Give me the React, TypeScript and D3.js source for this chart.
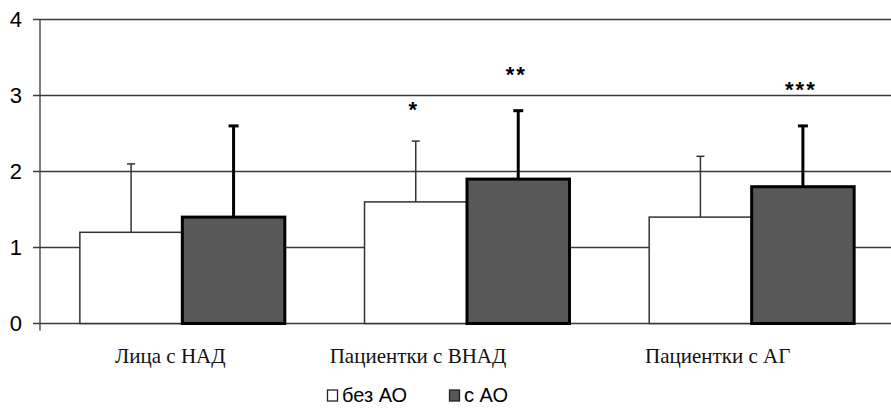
import { useEffect, useRef } from "react"
import * as d3 from "d3"

// chart data
const categories = ["Лица с НАД", "Пациентки с ВНАД", "Пациентки с АГ"]
const seriesNames = ["без АО", "с АО"]
const withoutAO = [1.2, 1.6, 1.4]
const withoutAOErr = [2.1, 2.4, 2.2]
const withAO = [1.4, 1.9, 1.8]
const withAOErr = [2.6, 2.8, 2.6]
const stars = [["", ""], ["*", "**"], ["", "***"]]
const yTicks = [0, 1, 2, 3, 4]

// category labels in the original sit a bit left of the group centre
const labelShift = [-12, -49, -34]

const W = 891
const H = 408
const M = { top: 19.5, right: 0, bottom: 84.5, left: 40 }

const App = () => {
  const svgRef = useRef<SVGSVGElement>(null)

  useEffect(() => {
    const svg = d3.select(svgRef.current)
    svg.selectAll("*").remove()

    const x = d3.scaleBand<string>()
      .domain(categories)
      .range([M.left, W - M.right + 3])
      .paddingInner(0.28)
      .paddingOuter(0.14)

    const x1 = d3.scaleBand<string>()
      .domain(seriesNames)
      .range([0, x.bandwidth()])

    const y = d3.scaleLinear()
      .domain([0, 4])
      .range([H - M.bottom, M.top])

    // gridlines
    svg.append("g")
      .attr("stroke", "#3a3a3a")
      .attr("stroke-width", 1.3)
      .selectAll("line")
      .data(yTicks)
      .join("line")
        .attr("x1", M.left - 7)
        .attr("x2", W)
        .attr("y1", d => y(d))
        .attr("y2", d => y(d))

    // y axis line
    svg.append("line")
      .attr("x1", M.left).attr("x2", M.left)
      .attr("y1", y(4)).attr("y2", y(0) + 7)
      .attr("stroke", "#3a3a3a")
      .attr("stroke-width", 1.3)

    // y tick labels
    svg.append("g")
      .attr("font-family", "'Liberation Sans', Arial, sans-serif")
      .attr("font-size", 22)
      .attr("text-anchor", "end")
      .selectAll("text")
      .data(yTicks)
      .join("text")
        .attr("x", M.left - 18)
        .attr("y", d => y(d))
        .attr("dy", "0.36em")
        .text(d => d)

    const rows = categories.map((c, i) => ({
      c,
      vals: [
        { s: seriesNames[0], v: withoutAO[i], e: withoutAOErr[i], star: stars[i][0] },
        { s: seriesNames[1], v: withAO[i], e: withAOErr[i], star: stars[i][1] },
      ],
    }))

    const groups = svg.append("g")
      .selectAll("g")
      .data(rows)
      .join("g")
        .attr("transform", d => `translate(${x(d.c)},0)`)

    const items = groups.selectAll("g")
      .data(d => d.vals)
      .join("g")

    // error bars (upper only) behind the bars
    items.append("line")
      .attr("x1", d => x1(d.s)! + x1.bandwidth() / 2)
      .attr("x2", d => x1(d.s)! + x1.bandwidth() / 2)
      .attr("y1", d => y(d.v))
      .attr("y2", d => y(d.e))
      .attr("stroke", d => d.s === seriesNames[0] ? "#333" : "#000")
      .attr("stroke-width", d => d.s === seriesNames[0] ? 1.5 : 3)
    items.append("line")
      .attr("x1", d => x1(d.s)! + x1.bandwidth() / 2 - (d.s === seriesNames[0] ? 4 : 5))
      .attr("x2", d => x1(d.s)! + x1.bandwidth() / 2 + (d.s === seriesNames[0] ? 4 : 5))
      .attr("y1", d => y(d.e))
      .attr("y2", d => y(d.e))
      .attr("stroke", d => d.s === seriesNames[0] ? "#333" : "#000")
      .attr("stroke-width", d => d.s === seriesNames[0] ? 1.5 : 3)

    // bars
    items.append("rect")
      .attr("x", d => x1(d.s)!)
      .attr("y", d => y(d.v))
      .attr("width", x1.bandwidth())
      .attr("height", d => y(0) - y(d.v))
      .attr("fill", d => d.s === seriesNames[0] ? "#fff" : "#585858")
      .attr("stroke", d => d.s === seriesNames[0] ? "#333" : "#000")
      .attr("stroke-width", d => d.s === seriesNames[0] ? 1.5 : 3)

    // significance stars
    items.append("text")
      .attr("x", d => x1(d.s)! + x1.bandwidth() / 2 - 2)
      .attr("y", d => y(d.e) - (d.s === seriesNames[0] ? 24 : 29))
      .attr("text-anchor", "middle")
      .attr("font-family", "'Liberation Sans', Arial, sans-serif")
      .attr("font-size", 22)
      .attr("font-weight", "bold")
      .attr("letter-spacing", 2)
      .text(d => d.star)

    // category labels
    svg.append("g")
      .attr("font-family", "'Liberation Serif', 'Times New Roman', serif")
      .attr("font-size", 21)
      .attr("text-anchor", "middle")
      .attr("fill", "#111")
      .selectAll("text")
      .data(categories)
      .join("text")
        .attr("x", (d, i) => x(d)! + x.bandwidth() / 2 + labelShift[i])
        .attr("y", 363)
        .text(d => d)

    // legend
    const legend = svg.append("g")
      .attr("font-family", "'Liberation Sans', Arial, sans-serif")
      .attr("font-size", 20)
      .selectAll("g")
      .data(seriesNames)
      .join("g")
        .attr("transform", (d, i) => `translate(${327 + i * 122},0)`)
    legend.append("rect")
      .attr("x", 0.5)
      .attr("y", 390)
      .attr("width", 10)
      .attr("height", 11)
      .attr("fill", (d, i) => i === 0 ? "#fff" : "#585858")
      .attr("stroke", "#222")
      .attr("stroke-width", 1.3)
    legend.append("text")
      .attr("x", 15)
      .attr("y", 402)
      .text(d => d)
  }, [])

  return (
    <svg
      ref={svgRef}
      width={W}
      height={H}
      style={{ position: "absolute", left: 0, top: 0, background: "#fff" }}
    />
  )
}

export default App
